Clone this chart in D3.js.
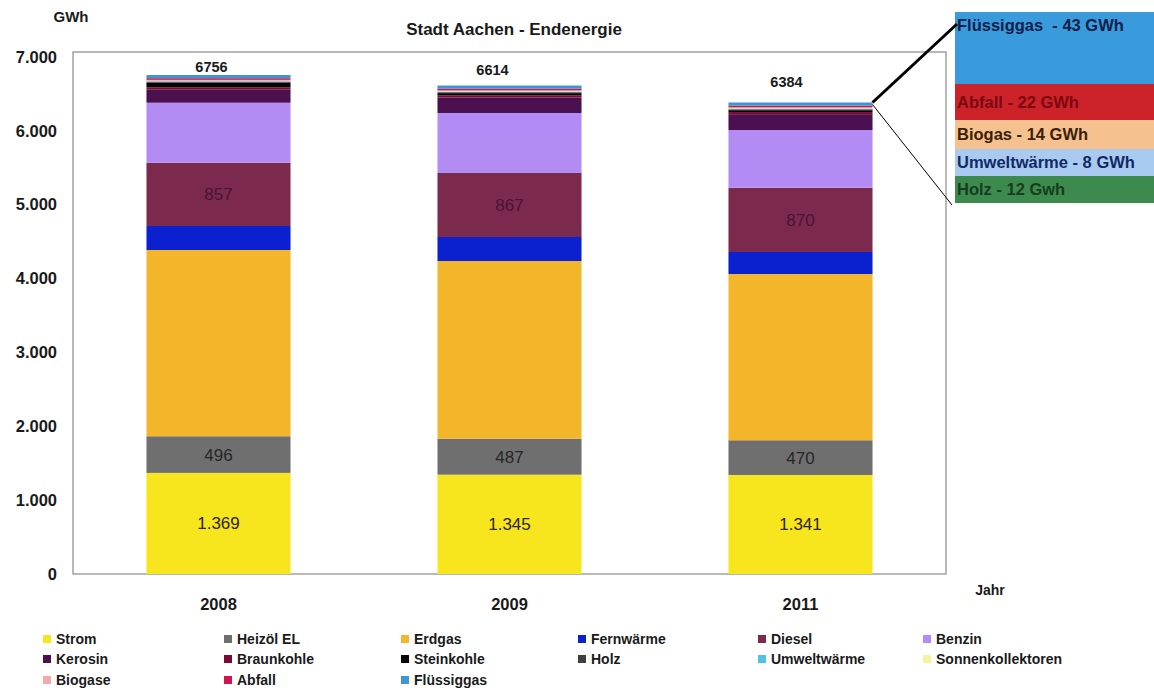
<!DOCTYPE html>
<html>
<head>
<meta charset="utf-8">
<script src="https://cdn.jsdelivr.net/npm/d3@7"></script>
<style>
  html, body { margin: 0; padding: 0; background: #fff; }
  svg { display: block; font-family: "Liberation Sans", Arial, sans-serif; }
</style>
</head>
<body>
<svg id="chart" width="1154" height="691"></svg>
<script>
// Endenergieverbrauch Stadt Aachen, GWh je Energieträger
const years = ["2008", "2009", "2011"];
const carriers = ["Strom", "Heizöl EL", "Erdgas", "Fernwärme", "Diesel", "Benzin",
  "Kerosin", "Braunkohle", "Steinkohle", "Holz", "Umweltwärme", "Sonnenkollektoren",
  "Biogase", "Abfall", "Flüssiggas"];
const carrierColors = ["#f7e51d", "#6f6f70", "#f3b62a", "#0b20cf", "#7b2a4d", "#b28cf4",
  "#4b1050", "#7d0a32", "#050505", "#3f3f3f", "#52c2e6", "#f4f49c",
  "#f5a9aa", "#d3134e", "#3d96d0"];

const strom = [1369, 1345, 1341];
const heizoel = [496, 487, 470];
const erdgas = [2522, 2406, 2251];
const fernwaerme = [325, 325, 298];
const diesel = [857, 867, 870];
const benzin = [812, 812, 781];
const kerosin = [176, 209, 215];
const braunkohle = [31, 30, 29];
const steinkohle = [65, 30, 25];
const holz = [12, 12, 12];
const umweltwaerme = [8, 8, 8];
const sonnenkollektoren = [4, 4, 5];
const biogase = [14, 14, 14];
const abfall = [22, 22, 22];
const fluessiggas = [43, 43, 43];

const seriesValues = [strom, heizoel, erdgas, fernwaerme, diesel, benzin, kerosin,
  braunkohle, steinkohle, holz, umweltwaerme, sonnenkollektoren, biogase, abfall, fluessiggas];

const yTicks = [0, 1000, 2000, 3000, 4000, 5000, 6000, 7000];

// Detailbox für die kleinen Energieträger 2011
const detailNames = ["Flüssiggas ", "Abfall", "Biogas", "Umweltwärme", "Holz"];
const detailValues = [43, 22, 14, 8, 12];
const detailUnits = ["GWh", "GWh", "GWh", "GWh", "Gwh"];
const detailFill = ["#3a9bdc", "#cc2229", "#f5c18f", "#a9cbf0", "#3d8a4f"];
const detailText = ["#10204a", "#7a0a10", "#3a2008", "#112a66", "#173d1d"];

const svg = d3.select("#chart");
const de = d3.formatLocale({ decimal: ",", thousands: ".", grouping: [3], currency: ["", " €"] });
const fmtDE = de.format(",d");

const rows = years.map((yr, i) => {
  const r = { year: yr };
  carriers.forEach((c, k) => { r[c] = seriesValues[k][i]; });
  return r;
});

const x = d3.scaleBand().domain(years).range([73, 946]).paddingInner(0.505).paddingOuter(0.2525);
const y = d3.scaleLinear().domain([0, 7000]).range([574, 57]);
const color = d3.scaleOrdinal().domain(carriers).range(carrierColors);

// Rahmen der Zeichenfläche
svg.append("rect")
  .attr("x", 73).attr("y", 52).attr("width", 873).attr("height", 522)
  .attr("fill", "none").attr("stroke", "#8a8a8a").attr("stroke-width", 1.2);

// Titel und Achsenbeschriftungen
svg.append("text").attr("x", 514).attr("y", 35).attr("text-anchor", "middle")
  .attr("font-size", 17).attr("font-weight", "bold").attr("fill", "#1a1a1a")
  .text("Stadt Aachen - Endenergie");
svg.append("text").attr("x", 71).attr("y", 22).attr("text-anchor", "middle")
  .attr("font-size", 15).attr("font-weight", "bold").attr("fill", "#1a1a1a").text("GWh");
svg.append("text").attr("x", 990).attr("y", 595).attr("text-anchor", "middle")
  .attr("font-size", 14).attr("font-weight", "bold").attr("fill", "#1a1a1a").text("Jahr");

const yAxis = svg.append("g").attr("transform", "translate(73,0)")
  .call(d3.axisLeft(y).tickValues(yTicks).tickSize(0).tickPadding(16).tickFormat(fmtDE));
yAxis.select(".domain").remove();
yAxis.selectAll("text").attr("font-size", 16.5).attr("font-weight", "bold")
  .attr("fill", "#1a1a1a").attr("font-family", "Liberation Sans, Arial, sans-serif");

const xAxis = svg.append("g").attr("transform", "translate(0,574)")
  .call(d3.axisBottom(x).tickSize(0).tickPadding(24));
xAxis.select(".domain").remove();
xAxis.selectAll("text").attr("font-size", 16.5).attr("font-weight", "bold")
  .attr("fill", "#1a1a1a").attr("font-family", "Liberation Sans, Arial, sans-serif");

// Gestapelte Säulen
const stacked = d3.stack().keys(carriers)(rows);
const layer = svg.append("g").selectAll("g").data(stacked).join("g")
  .attr("fill", d => color(d.key));
layer.selectAll("rect").data(d => d).join("rect")
  .attr("x", d => x(d.data.year))
  .attr("width", x.bandwidth())
  .attr("y", d => y(d[1]))
  .attr("height", d => y(d[0]) - y(d[1]));

// Werte in den Segmenten
const labelled = [["Strom", "#2a2410"], ["Heizöl EL", "#262626"], ["Diesel", "#4a1432"]];
labelled.forEach(([key, fill]) => {
  const s = stacked.find(d => d.key === key);
  svg.append("g").selectAll("text").data(s).join("text")
    .attr("x", d => x(d.data.year) + x.bandwidth() / 2)
    .attr("y", d => (y(d[0]) + y(d[1])) / 2)
    .attr("dy", "0.35em").attr("text-anchor", "middle")
    .attr("font-size", 17).attr("fill", fill)
    .text(d => fmtDE(d.data[key]));
});

// Summen über den Säulen
const totalOffsetsY = [8, 16, 21];
const totalOffsetsX = [-7, -17, -14];
svg.append("g").selectAll("text").data(rows).join("text")
  .attr("x", (d, i) => x(d.year) + x.bandwidth() / 2 + totalOffsetsX[i])
  .attr("y", (d, i) => y(d3.sum(carriers, c => d[c])) - totalOffsetsY[i])
  .attr("dy", "0.35em").attr("text-anchor", "middle")
  .attr("font-size", 14.5).attr("font-weight", "bold").attr("fill", "#1a1a1a")
  .text(d => d3.sum(carriers, c => d[c]));

// Detailbox rechts oben
const boxX = 955, boxW = 199;
const boxBands = [12, 84, 120, 149, 176, 203];
const box = svg.append("g");
detailNames.forEach((n, i) => {
  box.append("rect").attr("x", boxX).attr("y", boxBands[i]).attr("width", boxW)
    .attr("height", boxBands[i + 1] - boxBands[i]).attr("fill", detailFill[i]);
  const ty = i === 0 ? boxBands[0] + 13 : (boxBands[i] + boxBands[i + 1]) / 2;
  box.append("text").attr("x", boxX + 2).attr("y", ty).attr("dy", "0.35em")
    .attr("font-size", 16.5).attr("font-weight", "bold").attr("fill", detailText[i])
    .style("white-space", "pre")
    .text(`${n} - ${detailValues[i]} ${detailUnits[i]}`);
});

// Verbindungslinien von der Säule 2011 zur Detailbox
const last = rows[2];
const topY = y(d3.sum(carriers, c => last[c]));
const barRight = x("2011") + x.bandwidth();
svg.append("line").attr("x1", barRight).attr("y1", topY).attr("x2", boxX + 2).attr("y2", 24)
  .attr("stroke", "#000").attr("stroke-width", 3);
svg.append("line").attr("x1", barRight).attr("y1", topY + 2).attr("x2", boxX - 3).attr("y2", 205)
  .attr("stroke", "#000").attr("stroke-width", 1);

// Legende
const legendCols = [47, 228, 405, 582, 762, 927];
const legendRows = [639, 659, 680];
const legend = svg.append("g");
carriers.forEach((c, i) => {
  const lx = legendCols[i % 6], ly = legendRows[Math.floor(i / 6)];
  legend.append("rect").attr("x", lx - 4).attr("y", ly - 4).attr("width", 8).attr("height", 8)
    .attr("fill", color(c));
  legend.append("text").attr("x", lx + 9).attr("y", ly).attr("dy", "0.35em")
    .attr("font-size", 14).attr("font-weight", "bold").attr("fill", "#1a1a1a").text(c);
});
</script>
</body>
</html>
